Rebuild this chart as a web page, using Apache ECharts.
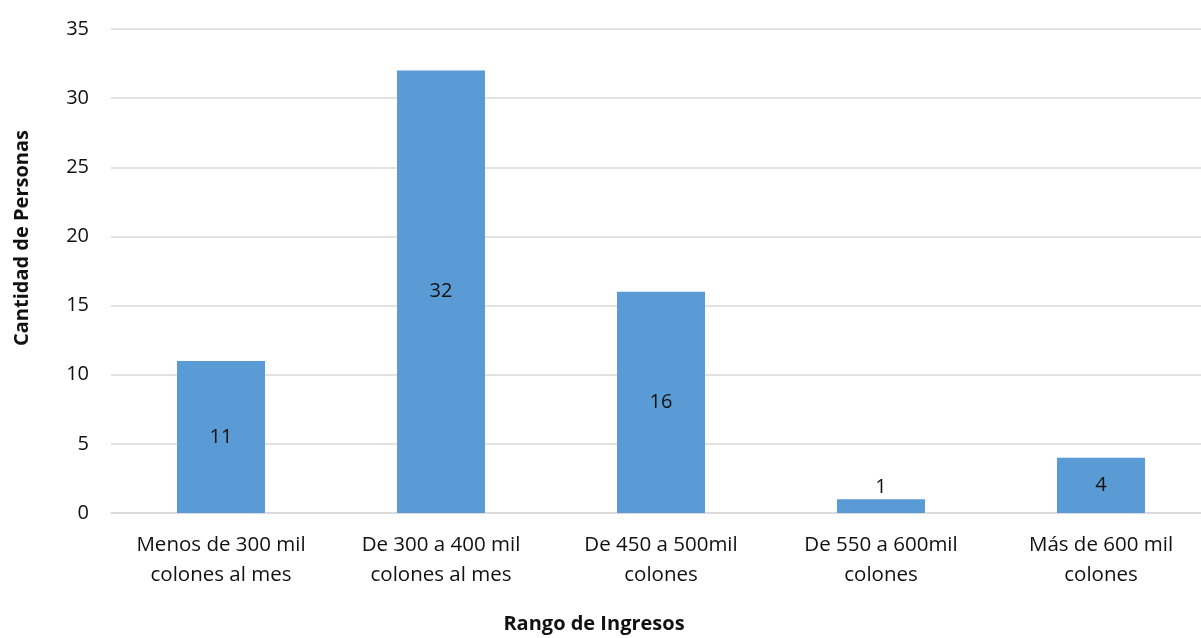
<!DOCTYPE html>
<html>
<head>
<meta charset="utf-8">
<script src="https://cdn.jsdelivr.net/npm/echarts@6/dist/echarts.min.js"></script>
<style>
  html, body { margin: 0; padding: 0; background: #fff; }
  #chart { width: 1201px; height: 638px; }
</style>
</head>
<body>
<div id="chart"></div>
<script>
// Income ranges and number of people in each
const categories = [
  'Menos de 300 mil\ncolones al mes',
  'De 300 a 400 mil\ncolones al mes',
  'De 450 a 500mil\ncolones',
  'De 550 a 600mil\ncolones',
  'Más de 600 mil\ncolones'
];
const personas = [11, 32, 16, 1, 4];
const yTicks = { min: 0, max: 35, interval: 5 };

const FONT = '"Open Sans", "Noto Sans", sans-serif';

const chart = echarts.init(document.getElementById('chart'));
chart.setOption({
  animation: false,
  grid: {
    left: 111, width: 1100, top: 29, bottom: 125,
    containLabel: false, outerBoundsMode: 'none'
  },
  xAxis: {
    type: 'category',
    data: categories,
    axisLine: { lineStyle: { color: '#d9d9d9', width: 1.5 } },
    axisTick: { show: false },
    axisLabel: {
      interval: 0, hideOverlap: false,
      color: '#111', fontFamily: FONT, fontSize: 20.5, lineHeight: 30, margin: 17
    }
  },
  yAxis: {
    type: 'value',
    min: yTicks.min, max: yTicks.max, interval: yTicks.interval,
    axisLine: { show: false },
    axisTick: { show: false },
    splitLine: { lineStyle: { color: '#d9d9d9', width: 1.5 } },
    axisLabel: { color: '#111', fontFamily: FONT, fontSize: 20, margin: 22 }
  },
  series: [{
    type: 'bar',
    data: personas.map(v => ({
      value: v,
      label: v < 2 ? { position: 'top', distance: 2 } : undefined
    })),
    barWidth: '40%',
    itemStyle: { color: '#5b9bd5' },
    label: {
      show: true,
      position: 'inside',
      color: '#111',
      fontFamily: FONT,
      fontSize: 20
    }
  }],
  graphic: [{
    type: 'text',
    x: 594,
    y: 624,
    style: {
      text: 'Rango de Ingresos',
      fill: '#111',
      font: 'bold 20px ' + FONT,
      align: 'center',
      verticalAlign: 'middle'
    }
  }, {
    type: 'text',
    x: 22,
    y: 238,
    rotation: Math.PI / 2,
    style: {
      text: 'Cantidad de Personas',
      fill: '#111',
      font: 'bold 20px ' + FONT,
      align: 'center',
      verticalAlign: 'middle'
    }
  }]
});
</script>
</body>
</html>
